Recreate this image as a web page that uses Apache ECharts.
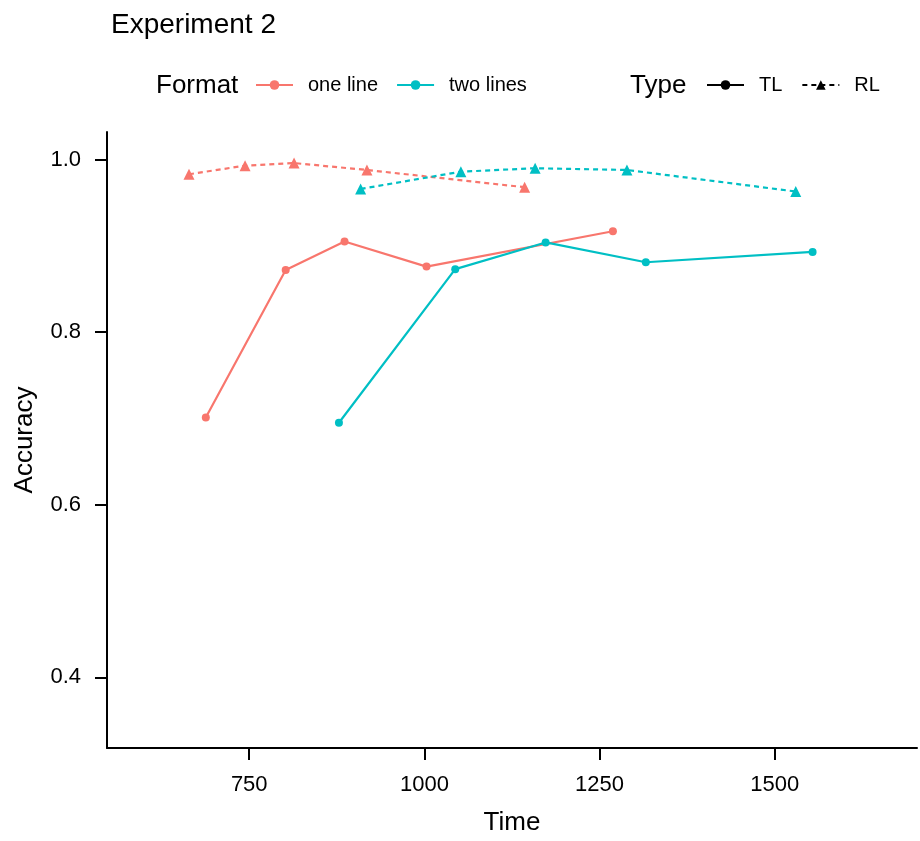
<!DOCTYPE html>
<html>
<head>
    <meta charset="utf-8"/>
    <title>Experiment 2</title>
    <script src="https://cdn.jsdelivr.net/npm/echarts@6/dist/echarts.min.js"></script>
    <style>
        html, body {margin: 0; padding: 0; background: #fff;}
        #chart {width: 920px; height: 841px;}
    </style>
</head>
<body>
<div id="chart"></div>
<script>
    // 数据
    var oneLineTL = [[688, 0.701], [802, 0.872], [886, 0.905], [1003, 0.876], [1269, 0.917]];
    var twoLinesTL = [[878, 0.695], [1044, 0.873], [1173, 0.904], [1316, 0.881], [1554, 0.893]];
    var oneLineRL = [[664, 0.983], [744, 0.993], [814, 0.996], [918, 0.988], [1143, 0.968]];
    var twoLinesRL = [[909, 0.966], [1052, 0.986], [1158, 0.990], [1289, 0.988], [1530, 0.963]];
    var xTicks = [750, 1000, 1250, 1500];
    var yTicks = [0.4, 0.6, 0.8, 1.0];

    var red = '#F8766D';
    var cyan = '#00BFC4';
    var font = 'Liberation Sans, Arial, Helvetica, sans-serif';

    var chart = echarts.init(document.getElementById('chart'));

    function lineSeries(name, data, color, dashed, symbol) {
        return {
            name: name,
            type: 'line',
            data: data,
            symbol: symbol,
            symbolSize: symbol == 'triangle' ? 11 : 8,
            color: color,
            itemStyle: {color: color},
            lineStyle: {color: color, width: 2.2, type: dashed ? [5, 4] : 'solid'},
            emphasis: {disabled: true},
            animation: false
        };
    }

    var option = {
        title: [
            {text: 'Experiment 2', left: 106, top: 6, textStyle: {fontFamily: font, fontSize: 28, fontWeight: 'normal', color: '#000'}},
            {text: 'Format', left: 151, top: 68, textStyle: {fontFamily: font, fontSize: 26, fontWeight: 'normal', color: '#000'}},
            {text: 'Type', left: 625, top: 68, textStyle: {fontFamily: font, fontSize: 26, fontWeight: 'normal', color: '#000'}}
        ],
        legend: [
            {
                data: ['one line', 'two lines'],
                left: 250, top: 70,
                itemWidth: 37, itemHeight: 12, itemGap: 18,
                selectedMode: false,
                textStyle: {fontFamily: font, fontSize: 20, color: '#000', padding: [0, 0, 0, 10]}
            },
            {
                data: ['TL', 'RL'],
                left: 701, top: 70,
                itemWidth: 37, itemHeight: 12, itemGap: 19,
                selectedMode: false,
                textStyle: {fontFamily: font, fontSize: 20, color: '#000', padding: [0, 0, 0, 10]}
            }
        ],
        grid: {left: 107, right: 3, top: 132, bottom: 86, containLabel: false},
        xAxis: {
            type: 'value',
            min: 547, max: 1703,
            name: 'Time',
            nameLocation: 'middle',
            nameGap: 62,
            nameTextStyle: {fontFamily: font, fontSize: 26, color: '#000'},
            axisLine: {lineStyle: {color: '#000', width: 2}},
            axisTick: {show: true, length: 12, lineStyle: {color: '#000', width: 2}, customValues: xTicks},
            axisLabel: {
                fontFamily: font, fontSize: 22, color: '#000', margin: 26, customValues: xTicks,
                formatter: function (v) { return String(v); }
            },
            splitLine: {show: false}
        },
        yAxis: {
            type: 'value',
            min: 0.318, max: 1.032,
            name: 'Accuracy',
            nameLocation: 'middle',
            nameGap: 69,
            nameTextStyle: {fontFamily: font, fontSize: 26, color: '#000'},
            axisLine: {show: true, lineStyle: {color: '#000', width: 2}},
            axisTick: {show: true, length: 12, lineStyle: {color: '#000', width: 2}, customValues: yTicks},
            axisLabel: {
                fontFamily: font, fontSize: 22, color: '#000', margin: 26, customValues: yTicks,
                formatter: function (v) { return v.toFixed(1); }
            },
            splitLine: {show: false}
        },
        series: [
            lineSeries('one line', oneLineTL, red, false, 'circle'),
            lineSeries('one line', oneLineRL, red, true, 'triangle'),
            lineSeries('two lines', twoLinesTL, cyan, false, 'circle'),
            lineSeries('two lines', twoLinesRL, cyan, true, 'triangle'),
            // 图例占位
            lineSeries('TL', [], '#000', false, 'circle'),
            lineSeries('RL', [], '#000', true, 'triangle')
        ]
    };
    chart.setOption(option);
</script>
</body>
</html>
